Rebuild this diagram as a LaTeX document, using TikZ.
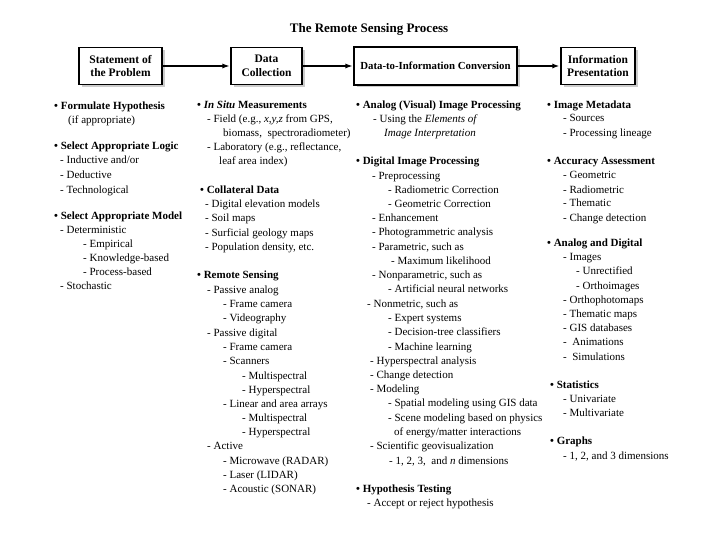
\documentclass[tikz,border=0pt]{standalone}
\usepackage{fontspec}
\setmainfont{Liberation Serif}
\usetikzlibrary{shadows,arrows.meta}
\newcommand\rsfont{\fontsize{11bp}{13bp}\selectfont}
\newcommand\rsboxfont{\fontsize{11.5bp}{13.5bp}\selectfont\bfseries}
\newcommand\rsl[5][txt]{\node[#1] (#2) at (#3,#4) {#5};}
\tikzset{
  txt/.style={anchor=west, inner sep=0pt, font=\rsfont, text height=8bp, text depth=2.5bp},
  hd/.style={txt, font=\rsfont\bfseries},
  stage/.style={draw, line width=1.1bp, fill=white, align=center, inner sep=2bp,
    minimum height=37bp, font=\rsboxfont,
    drop shadow={shadow xshift=2.5bp, shadow yshift=-2.5bp, fill=black!40}},
  flow/.style={-{Latex[length=7bp,width=5bp]}, line width=1.1bp, shorten >=1bp},
  flowthick/.style={flow, line width=2bp},
}
\begin{document}
\begin{tikzpicture}[x=1bp,y=-1bp]
\useasboundingbox (0,0) rectangle (720,540);
\node[font=\fontsize{13bp}{15bp}\selectfont\bfseries] (title) at (369,29) {The Remote Sensing Process};
\node[stage, minimum width=83bp] (b1) at (120.5,66) {Statement of\\the Problem};
\node[stage, minimum width=71bp] (b2) at (266.5,66) {Data\\Collection};
\node[stage, minimum width=163bp, minimum height=38bp, font=\fontsize{10.8bp}{13bp}\selectfont\bfseries] (b3) at (435.5,66) {Data-to-Information Conversion};
\node[stage, minimum width=74bp] (b4) at (598,66) {Information\\Presentation};
\draw[flow] (b1.east) -- (b2.west);
\draw[flow] (b2.east) -- (b3.west);
\draw[flowthick] (b3.east) -- (b4.west);
% column 1
\rsl[hd]{a1}{54}{107}{• Formulate Hypothesis}
\rsl{a2}{68}{121}{(if appropriate)}
\rsl[hd]{a3}{54}{147}{• Select Appropriate Logic}
\rsl{a4}{60}{161}{- Inductive and/or}
\rsl{a5}{60}{176}{- Deductive}
\rsl{a6}{60}{191}{- Technological}
\rsl[hd]{a7}{54}{217}{• Select Appropriate Model}
\rsl{a8}{60}{231}{- Deterministic}
\rsl{a9}{83}{245}{- Empirical}
\rsl{a10}{83}{259}{- Knowledge-based}
\rsl{a11}{83}{273}{- Process-based}
\rsl{a12}{60}{287}{- Stochastic}
% column 2
\rsl[hd]{c2a}{197}{106}{• \textit{In Situ} Measurements}
\rsl{c2b}{207}{120}{- Field (e.g., \textit{x,y,z} from GPS,}
\rsl{c2c}{223}{134}{biomass,\ \ spectroradiometer)}
\rsl{c2d}{207}{148}{- Laboratory (e.g., reflectance,}
\rsl{c2e}{219}{162}{leaf area index)}
\rsl[hd]{c2f}{200}{191}{• Collateral Data}
\rsl{c2g}{205}{205}{- Digital elevation models}
\rsl{c2h}{205}{219}{- Soil maps}
\rsl{c2i}{205}{234}{- Surficial geology maps}
\rsl{c2j}{205}{248}{- Population density, etc.}
\rsl[hd]{c2k}{197}{276}{• Remote Sensing}
\rsl{c2l}{207}{291}{- Passive analog}
\rsl{c2m}{223}{305}{- Frame camera}
\rsl{c2n}{223}{319}{- Videography}
\rsl{c2o}{207}{334}{- Passive digital}
\rsl{c2p}{223}{348}{- Frame camera}
\rsl{c2q}{223}{362}{- Scanners}
\rsl{c2r}{242}{377}{- Multispectral}
\rsl{c2s}{242}{391}{- Hyperspectral}
\rsl{c2t}{223}{405}{- Linear and area arrays}
\rsl{c2u}{242}{419}{- Multispectral}
\rsl{c2v}{242}{433}{- Hyperspectral}
\rsl{c2w}{207}{447}{- Active}
\rsl{c2x}{223}{462}{- Microwave (RADAR)}
\rsl{c2y}{223}{476}{- Laser (LIDAR)}
\rsl{c2z}{223}{490}{- Acoustic (SONAR)}
% column 3
\rsl[hd]{c3a}{356}{106}{• Analog (Visual) Image Processing}
\rsl{c3b}{373}{120}{- Using the \textit{Elements of}}
\rsl{c3c}{384}{134}{\textit{Image Interpretation}}
\rsl[hd]{c3d}{356}{162}{• Digital Image Processing}
\rsl{c3e}{372}{177}{- Preprocessing}
\rsl{c3f}{388}{191}{- Radiometric Correction}
\rsl{c3g}{388}{205}{- Geometric Correction}
\rsl{c3h}{372}{219}{- Enhancement}
\rsl{c3i}{372}{233}{- Photogrammetric analysis}
\rsl{c3j}{372}{248}{- Parametric, such as}
\rsl{c3k}{391}{262}{- Maximum likelihood}
\rsl{c3l}{372}{276}{- Nonparametric, such as}
\rsl{c3m}{388}{290}{- Artificial neural networks}
\rsl{c3n}{367}{305}{- Nonmetric, such as}
\rsl{c3o}{388}{319}{- Expert systems}
\rsl{c3p}{388}{333}{- Decision-tree classifiers}
\rsl{c3q}{388}{348}{- Machine learning}
\rsl{c3r}{370}{362}{- Hyperspectral analysis}
\rsl{c3s}{370}{376}{- Change detection}
\rsl{c3t}{370}{390}{- Modeling}
\rsl{c3u}{388}{404}{- Spatial modeling using GIS data}
\rsl{c3v}{388}{419}{- Scene modeling based on physics}
\rsl{c3w}{394}{433}{of energy/matter interactions}
\rsl{c3x}{370}{447}{- Scientific geovisualization}
\rsl{c3y}{389}{462}{- 1, 2, 3,\ \ and \textit{n} dimensions}
\rsl[hd]{c3z}{356}{490}{• Hypothesis Testing}
\rsl{c3aa}{367}{504}{- Accept or reject hypothesis}
% column 4
\rsl[hd]{d1}{547}{106}{• Image Metadata}
\rsl{d2}{563}{119}{- Sources}
\rsl{d3}{563}{134}{- Processing lineage}
\rsl[hd]{d4}{547}{162}{• Accuracy Assessment}
\rsl{d5}{563}{176}{- Geometric}
\rsl{d6}{563}{191}{- Radiometric}
\rsl{d7}{563}{204}{- Thematic}
\rsl{d8}{563}{219}{- Change detection}
\rsl[hd]{d9}{547}{244}{• Analog and Digital}
\rsl{d10}{563}{258}{- Images}
\rsl{d11}{576}{272}{- Unrectified}
\rsl{d12}{576}{287}{- Orthoimages}
\rsl{d13}{563}{301}{- Orthophotomaps}
\rsl{d14}{563}{315}{- Thematic maps}
\rsl{d15}{563}{329}{- GIS databases}
\rsl{d16}{563}{343}{-\ \ Animations}
\rsl{d17}{563}{358}{-\ \ Simulations}
\rsl[hd]{d18}{550}{386}{• Statistics}
\rsl{d19}{563}{400}{- Univariate}
\rsl{d20}{563}{414}{- Multivariate}
\rsl[hd]{d21}{550}{442}{• Graphs}
\rsl{d22}{563}{457}{- 1, 2, and 3 dimensions}
\end{tikzpicture}
\end{document}
